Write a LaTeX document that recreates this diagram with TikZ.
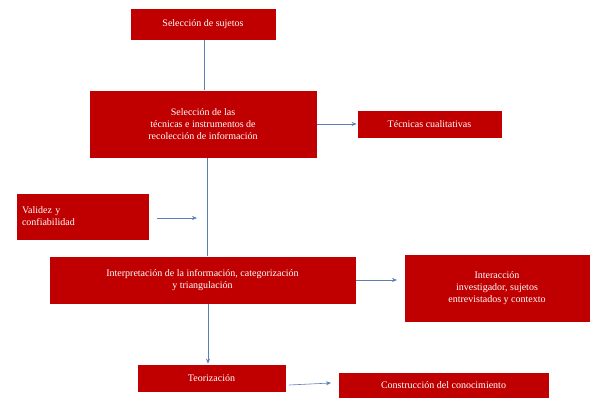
\documentclass[tikz,border=0pt]{standalone}
\usepackage{fontspec}
\setmainfont{Liberation Serif}
\usetikzlibrary{arrows.meta}
\definecolor{boxred}{HTML}{C00000}
\definecolor{lineblue}{HTML}{5B7FB5}
\begin{document}
\begin{tikzpicture}[x=1pt,y=-1pt,
  bx/.style={fill=boxred,draw=white,line width=0.8pt,text=white,font=\fontsize{10}{12}\selectfont,inner sep=0pt,align=center},
  conn/.style={draw=lineblue,line width=0.6pt},
  arr/.style={conn,-{Stealth[length=5pt,width=4pt]}}]
\useasboundingbox (0,0) rectangle (608,412);
\node[bx,minimum width=146,minimum height=32] (a) at (203,24) {Selección de sujetos};
\node[bx,minimum width=228,minimum height=68] (b) at (203,124) {Selección de las\\técnicas e instrumentos de\\recolección de información};
\node[bx,minimum width=145,minimum height=28] (c) at (429.5,124) {Técnicas cualitativas};
\node[bx,minimum width=133,minimum height=47,align=left,text width=121] (d) at (82.5,216.5) {Validez y\\confiabilidad};
\node[bx,minimum width=307,minimum height=48] (e) at (202.5,280) {Interpretación de la información, categorización\\y triangulación};
\node[bx,minimum width=186,minimum height=68] (f) at (497,288) {Interacción\\investigador, sujetos\\entrevistados y contexto};
\node[bx,minimum width=149,minimum height=28] (g) at (211.5,378) {Teorización};
\node[bx,minimum width=211,minimum height=26] (h) at (443.5,385) {Construcción del conocimiento};
\coordinate (v1) at (157,218);
\coordinate (v2) at (197,218);
\coordinate (t1) at (289,385);
\coordinate (t2) at (331,383);
\draw[conn] (204,40) -- (204,90);
\draw[conn] (207,158) -- (207,256);
\draw[arr] (208,304) -- (g.north -| 208,0);
\draw[arr] (b.east) -- (c.west);
\draw[arr] (v1) -- (v2);
\draw[arr] (e.east) -- (397,280);
\draw[arr] (t1) -- (t2);
\end{tikzpicture}
\end{document}
